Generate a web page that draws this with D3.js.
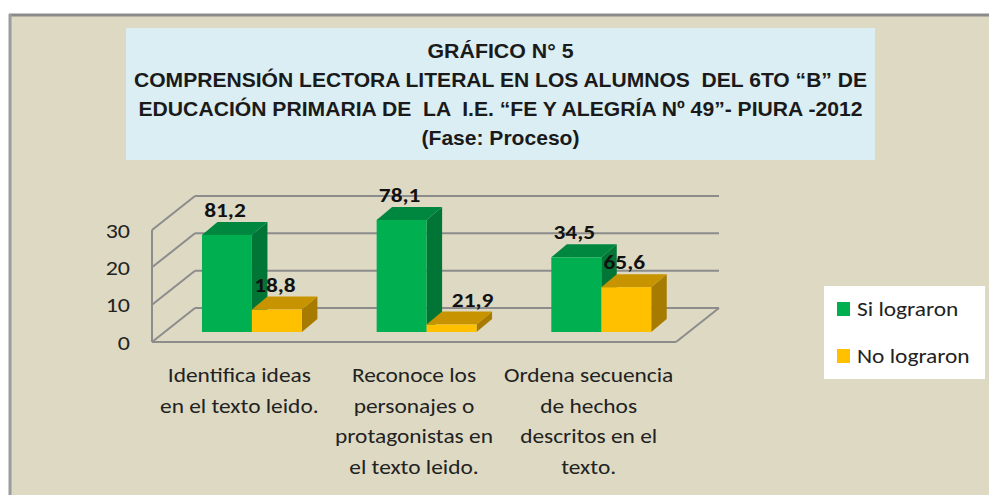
<!DOCTYPE html>
<html>
<head>
<meta charset="utf-8">
<script src="https://cdn.jsdelivr.net/npm/d3@7/dist/d3.min.js"></script>
<style>
  html, body { margin: 0; padding: 0; background: #ffffff; }
  svg { display: block; }
  text { white-space: pre; }
</style>
</head>
<body>
<div id="chart"></div>
<script>
/* data (bar heights are student counts, labels are % ) */
var categories = ["Identifica", "Reconoce", "Ordena"];
var categoryLines = [
  ["Identifica ideas", "en el texto leido."],
  ["Reconoce los", "personajes o", "protagonistas en", "el texto leido."],
  ["Ordena secuencia", "de hechos", "descritos en el", "texto."]
];
var seriesNames = ["Si lograron", "No lograron"];
var siValues = [26, 30, 20];
var noValues = [6, 2, 12];
var siLabels = ["81,2", "78,1", "34,5"];
var noLabels = ["18,8", "21,9", "65,6"];
var yTicks = [0, 10, 20, 30];
var titleLines = [
  "GRÁFICO N° 5",
  "COMPRENSIÓN LECTORA LITERAL EN LOS ALUMNOS  DEL 6TO “B” DE",
  "EDUCACIÓN PRIMARIA DE  LA  I.E. “FE Y ALEGRÍA Nº 49”- PIURA -2012",
  "(Fase: Proceso)"
];

function draw() {
  "use strict";

  var width = 989, height = 495;
  var bodyFont = "Carlito, Lato, 'Noto Sans', sans-serif";
  var stretch = 1.2;   /* the original picture is widened, so the text is too */
  var colors = {
    "Si lograron": { front: "#00b050", top: "#00873f", side: "#007535" },
    "No lograron": { front: "#ffc000", top: "#c79400", side: "#a67b00" }
  };

  var svg = d3.select("#chart")
    .append("svg")
      .attr("width", width)
      .attr("height", height);

  /* widened text helper */
  function wideText(parent, x, y, str, anchor, size, weight) {
    var t = parent.append("g")
      .attr("transform", "translate(" + x + "," + y + ") scale(" + stretch + ",1)")
      .append("text")
        .attr("text-anchor", anchor)
        .style("font-family", bodyFont)
        .style("font-size", size + "px")
        .style("font-weight", weight || "normal")
        .style("fill", "#222")
        .text(str);
    return t;
  }

  /* frame */
  svg.append("rect")
    .attr("x", 10).attr("y", 15)
    .attr("width", width).attr("height", height)
    .attr("fill", "#ddd9c3");
  svg.append("line")
    .attr("x1", 9).attr("x2", width).attr("y1", 15).attr("y2", 15)
    .attr("stroke", "#8a8a8a").attr("stroke-width", 3);
  svg.append("line")
    .attr("x1", 10).attr("x2", 10).attr("y1", 14).attr("y2", height)
    .attr("stroke", "#9c9c9c").attr("stroke-width", 3);

  /* title box */
  svg.append("rect")
    .attr("x", 126).attr("y", 28)
    .attr("width", 749).attr("height", 132)
    .attr("fill", "#daeef3");

  var titleWidths = [146, 733, 724, 158];
  svg.selectAll("text.title")
    .data(titleLines)
    .enter()
    .append("text")
      .attr("class", "title")
      .attr("x", 500.5)
      .attr("y", function (d, i) { return 57.5 + i * 29; })
      .attr("text-anchor", "middle")
      .attr("textLength", function (d, i) { return titleWidths[i]; })
      .attr("lengthAdjust", "spacingAndGlyphs")
      .style("font-family", "'Liberation Sans', Arial, sans-serif")
      .style("font-size", "21px")
      .style("font-weight", "bold")
      .style("fill", "#1a1a1a")
      .text(function (d) { return d; });

  /* 3D plot geometry */
  var DX = 43, DY = -34;              // depth of the walls
  var barOff = [12.6, -10];           // bar front face relative to front plane
  var barDepth = [15.5, -13];         // depth of each bar

  var y = d3.scaleLinear().domain([0, 30]).range([342, 230]);
  var x = d3.scaleBand().domain(categories).range([152, 676])
    .paddingInner(0.428).paddingOuter(0.214);
  var xs = d3.scaleBand().domain(seriesNames).range([0, x.bandwidth()]);

  var grid = svg.append("g")
    .attr("stroke", "#8c8c8c")
    .attr("stroke-width", 2)
    .attr("fill", "none");

  /* back wall gridlines */
  grid.selectAll("line.back")
    .data(yTicks)
    .enter().append("line")
      .attr("x1", 152 + DX).attr("x2", 676 + DX)
      .attr("y1", function (d) { return y(d) + DY; })
      .attr("y2", function (d) { return y(d) + DY; });
  /* side wall gridlines */
  grid.selectAll("line.side")
    .data(yTicks)
    .enter().append("line")
      .attr("x1", 152).attr("x2", 152 + DX)
      .attr("y1", function (d) { return y(d); })
      .attr("y2", function (d) { return y(d) + DY; });
  grid.append("line")
    .attr("x1", 152).attr("x2", 152)
    .attr("y1", y(0)).attr("y2", y(30));
  /* floor edges */
  grid.append("line")
    .attr("x1", 152).attr("x2", 676)
    .attr("y1", y(0)).attr("y2", y(0));
  grid.append("line")
    .attr("x1", 676).attr("x2", 676 + DX)
    .attr("y1", y(0)).attr("y2", y(0) + DY);

  /* y axis labels */
  var yl = svg.append("g");
  yTicks.forEach(function (t) {
    wideText(yl, 130, y(t) + 7.5, String(t), "end", 20);
  });

  /* bars */
  var bars = [];
  categories.forEach(function (c, i) {
    bars.push({ cat: c, s: seriesNames[0], v: siValues[i], label: siLabels[i] });
    bars.push({ cat: c, s: seriesNames[1], v: noValues[i], label: noLabels[i] });
  });

  var bw = xs.bandwidth();
  var g = svg.selectAll("g.bar")
    .data(bars)
    .enter().append("g")
      .attr("class", "bar");

  function pts(arr) { return arr.map(function (p) { return p.join(","); }).join(" "); }

  g.each(function (d) {
    var gx = x(d.cat) + xs(d.s) + barOff[0];
    var yb = y(0) + barOff[1];
    var yt = y(d.v) + barOff[1];
    var c = colors[d.s];
    var sel = d3.select(this);
    sel.append("polygon")
      .attr("points", pts([[gx + bw, yt], [gx + bw + barDepth[0], yt + barDepth[1]],
        [gx + bw + barDepth[0], yb + barDepth[1]], [gx + bw, yb]]))
      .attr("fill", c.side);
    sel.append("polygon")
      .attr("points", pts([[gx, yt], [gx + barDepth[0], yt + barDepth[1]],
        [gx + bw + barDepth[0], yt + barDepth[1]], [gx + bw, yt]]))
      .attr("fill", c.top);
    sel.append("rect")
      .attr("x", gx).attr("y", yt)
      .attr("width", bw).attr("height", yb - yt)
      .attr("fill", c.front);
  });

  /* data labels ("21,9" was nudged right in the original) */
  g.each(function (d) {
    var nudge = d.label === "21,9" ? 23 : 0;
    var lx = x(d.cat) + xs(d.s) + barOff[0] + bw / 2 - 2 + nudge;
    var ly = y(d.v) + barOff[1] - 18;
    wideText(d3.select(this), lx, ly, d.label, "middle", 19.5, "bold").style("fill", "#111");
  });

  /* category labels */
  var cl = svg.append("g");
  categories.forEach(function (c, i) {
    categoryLines[i].forEach(function (line, j) {
      wideText(cl, x(c) + x.bandwidth() / 2, 382 + j * 30.7, line, "middle", 19.5);
    });
  });

  /* legend */
  var lg = svg.append("g");
  lg.append("rect")
    .attr("x", 824).attr("y", 286)
    .attr("width", 161).attr("height", 93)
    .attr("fill", "#ffffff");
  seriesNames.forEach(function (s, i) {
    var cy = 309 + i * 47;
    lg.append("rect")
      .attr("x", 837).attr("y", cy - 7)
      .attr("width", 13).attr("height", 14)
      .attr("fill", colors[s].front);
    wideText(lg, 857, cy + 7, s, "start", 19.5);
  });
}

draw();
</script>
</body>
</html>
